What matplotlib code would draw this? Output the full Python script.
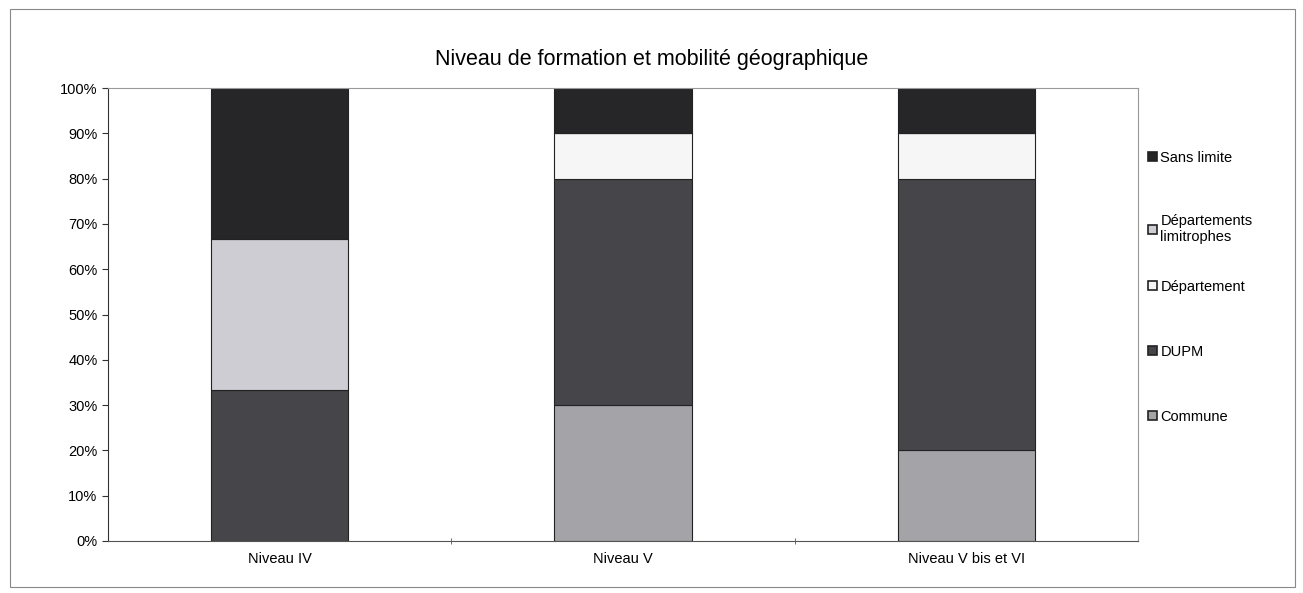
import matplotlib.pyplot as plt
from matplotlib.patches import Rectangle, Patch
from matplotlib.ticker import PercentFormatter

categories = ["Niveau IV", "Niveau V", "Niveau V bis et VI"]
series = ["Commune", "DUPM", "Département", "Départements\nlimitrophes", "Sans limite"]
commune = [0, 30, 20]
dupm = [33.3, 50, 60]
departement = [0, 10, 10]
limitrophes = [33.4, 0, 0]
sans_limite = [33.3, 10, 10]
values = [commune, dupm, departement, limitrophes, sans_limite]
colors = ["#a4a4a8", "#46464a", "#f6f6f6", "#cdcdd3", "#262628"]

plt.rcParams["font.family"] = ["Liberation Sans", "DejaVu Sans"]

fig = plt.figure(figsize=(13.03, 5.93), dpi=100)
fig.patches.append(Rectangle((10 / 1303, 6 / 593), 1285 / 1303, 578 / 593,
                             transform=fig.transFigure, fill=False,
                             edgecolor="#888888", linewidth=0.8))

ax = fig.add_axes([108 / 1303, 52 / 593, 1030 / 1303, 453 / 593])
x = range(len(categories))
bottom = [0, 0, 0]
for name, vals, col in zip(series, values, colors):
    ax.bar(x, vals, width=0.4, bottom=bottom, color=col, edgecolor="#222222",
           linewidth=0.8, label=name)
    bottom = [b + v for b, v in zip(bottom, vals)]

ax.set_xlim(-0.5, 2.5)
ax.set_ylim(0, 100)
ax.set_yticks(range(0, 101, 10))
ax.yaxis.set_major_formatter(PercentFormatter(decimals=0))
ax.set_xticks(list(x))
ax.set_xticklabels(categories)
ax.set_xticks([0.5, 1.5], minor=True)
ax.tick_params(axis="x", which="major", length=0, pad=8, labelsize=10.5)
ax.tick_params(axis="x", which="minor", length=5, direction="inout", color="#555555")
ax.tick_params(axis="y", length=4, labelsize=10.5, color="#333333")
for side in ["top", "right"]:
    ax.spines[side].set_color("#999999")
    ax.spines[side].set_linewidth(0.8)
ax.spines["left"].set_color("#333333")
ax.spines["bottom"].set_color("#555555")

fig.text(0.5, 1 - 60 / 593, "Niveau de formation et mobilité géographique",
         ha="center", va="center", fontsize=15.5)

# Excel-style legend: one row every ~65 px, top entry first
row_y = [158, 222, 287, 352, 417]
for name, col, y in zip(series[::-1], colors[::-1], row_y):
    if "\n" in name:
        y += 7
    fig.legend([Patch(facecolor=col, edgecolor="#222222", linewidth=1.2)], [name],
               loc="center left", bbox_to_anchor=(1148 / 1303, 1 - y / 593),
               frameon=False, fontsize=10.5, handlelength=0.6, handleheight=0.6,
               handletextpad=0.25, borderaxespad=0, borderpad=0)

fig.savefig("out.png", dpi=100)
